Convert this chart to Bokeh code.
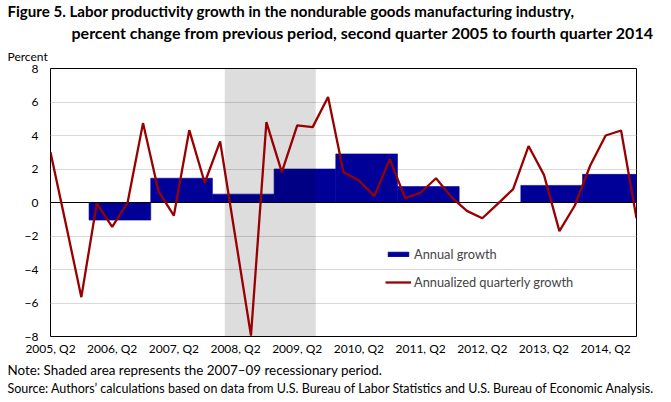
from bokeh.plotting import figure
from bokeh.models import Range1d, Legend, LegendItem, FixedTicker, Title
from bokeh.embed import file_html
from bokeh.resources import INLINE

# ---------------- data ----------------
tick_labels = ["2005, Q2", "2006, Q2", "2007, Q2", "2008, Q2", "2009, Q2",
               "2010, Q2", "2011, Q2", "2012, Q2", "2013, Q2", "2014, Q2"]

# annualized quarterly growth, 2005 Q2 .. 2014 Q4
quarterly_growth = [3.0, -1.3, -5.65, -0.05, -1.45, 0.0, 4.74, 0.68, -0.78, 4.32,
                    1.18, 3.65, -2.15, -7.95, 4.8, 1.81, 4.6, 4.5, 6.3, 1.81,
                    1.31, 0.38, 2.59, 0.26, 0.58, 1.45, 0.32, -0.5, -0.94, -0.08,
                    0.8, 3.37, 1.65, -1.71, -0.18, 2.21, 4.0, 4.3, -0.94]

annual_years = [2006, 2007, 2008, 2009, 2010, 2011, 2012, 2013, 2014]
annual_growth = [-1.05, 1.45, 0.5, 2.0, 2.9, 0.95, 0.0, 1.02, 1.68]

# recession shading, in quarter-index units from 2005 Q2
recession = [11.3, 17.2]

y_min, y_max = -8, 8
y_ticks = [-8, -6, -4, -2, 0, 2, 4, 6, 8]

# ---------------- derived ----------------
q_index = list(range(len(quarterly_growth)))
bar_left = [(y - 2005) * 4 - 1 - 0.5 for y in annual_years]
bar_right = [l + 4 for l in bar_left]
tick_pos = [i * 4 for i in range(len(tick_labels))]

FONT = "Lato"
NAVY = "#000099"
RED = "#990000"

p = figure(width=671, height=402, output_backend="svg", toolbar_location=None,
           x_range=Range1d(0, len(quarterly_growth) - 1), y_range=Range1d(y_min, y_max),
           min_border_left=50, min_border_right=35, min_border_top=68, min_border_bottom=66)

p.outline_line_color = "black"
p.outline_line_width = 1
p.background_fill_color = "white"
p.border_fill_color = "white"

bars = p.quad(left=bar_left, right=bar_right, bottom=0, top=annual_growth,
              fill_color=NAVY, line_color=NAVY, line_width=0.6)
p.quad(left=[recession[0]], right=[recession[1]], bottom=[y_min], top=[y_max],
       fill_color="black", fill_alpha=0.135, line_color=None)
p.hspan(y=[0], line_color="black", line_width=1)
line = p.line(q_index, quarterly_growth, line_color=RED, line_width=2.3)

p.xaxis.ticker = FixedTicker(ticks=tick_pos)
p.xaxis.major_label_overrides = {t: l for t, l in zip(tick_pos, tick_labels)}
p.yaxis.ticker = FixedTicker(ticks=y_ticks)
for ax in (p.xaxis[0], p.yaxis[0]):
    ax.axis_line_color = None
    ax.major_tick_line_color = None
    ax.minor_tick_line_color = None
    ax.major_tick_out = 0
    ax.major_tick_in = 0
    ax.minor_tick_out = 0
    ax.minor_tick_in = 0
    ax.major_label_text_font = FONT
    ax.major_label_text_font_size = "12px"
    ax.major_label_text_color = "black"
p.xaxis.major_label_standoff = 4
p.yaxis.major_label_standoff = 12

p.xgrid.grid_line_color = None
p.ygrid.ticker = FixedTicker(ticks=[t for t in y_ticks if t not in (0, y_min, y_max)])
p.ygrid.grid_line_color = "#D9D9D9"
p.ygrid.grid_line_width = 1

legend = Legend(items=[LegendItem(label="Annual growth", renderers=[bars]),
                       LegendItem(label="Annualized quarterly growth", renderers=[line])],
                location=(335, 44), glyph_width=26, glyph_height=6, label_height=20,
                spacing=8, padding=0, margin=0, border_line_color=None,
                background_fill_alpha=0, label_standoff=3,
                label_text_font=FONT, label_text_font_size="12.8px")
p.add_layout(legend)

def title(text, side, offset, standoff, size, bold=False):
    p.add_layout(Title(text=text, align="left", offset=offset, standoff=standoff,
                       text_font=FONT, text_font_size=size,
                       text_font_style="bold" if bold else "normal",
                       text_color="black"), side)

# above: first added sits closest to the frame
title("Percent", "above", -43, 9.3, "12px")
title("percent change from previous period, second quarter 2005 to fourth quarter 2014",
      "above", 21, 2, "16px", True)
title("Figure 5. Labor productivity growth in the nondurable goods manufacturing  industry,",
      "above", -43, -1.4, "15.1px", True)
# below: after the x axis
title("Note: Shaded area represents the 2007\u201309 recessionary period.", "below", -43, 1.8, "13.4px")
title("Source: Authors\u2019 calculations based on data from U.S. Bureau of Labor Statistics and U.S. Bureau of Economic Analysis.",
      "below", -43, 0, "12.5px")

open("out.html", "w").write(file_html(p, INLINE))
